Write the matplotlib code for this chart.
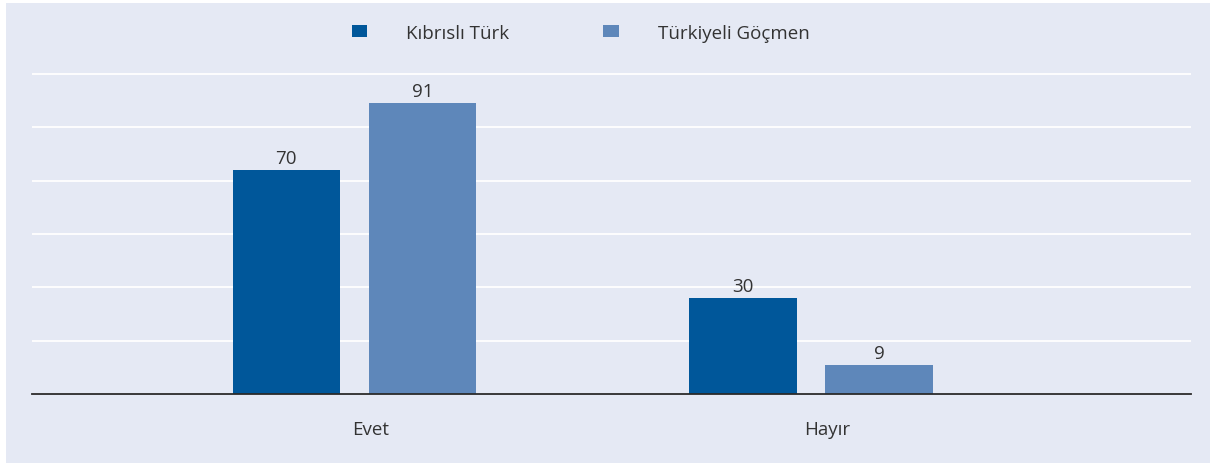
import matplotlib.pyplot as plt
import numpy as np
from matplotlib.patches import Rectangle

# veriler
categories = ["Evet", "Hayır"]
series_names = ["Kıbrıslı Türk", "Türkiyeli Göçmen"]
kibrisli = [70, 30]
gocmen = [91, 9]

c = ['#00579a', '#5e87ba']
bg = '#e5e9f4'
txt = '#333333'

plt.rcParams['font.family'] = ['Open Sans', 'DejaVu Sans']

fig = plt.figure(figsize=(12.1, 4.64), dpi=100, facecolor='white')
W, H = 1210, 464
fig.patches.append(Rectangle((6 / W, 0), 1 - 6 / W, 1 - 4 / H, transform=fig.transFigure,
                             facecolor=bg, edgecolor='none', zorder=-5))

ax = fig.add_axes([32 / W, 1 - 395 / H, (1191 - 32) / W, (395 - 74) / H])
ax.set_zorder(2)
ax.set_facecolor(bg)

x = np.arange(len(categories))
w = 0.235
off = 0.149
b1 = ax.bar(x - off, kibrisli, w, color=c[0], label=series_names[0], zorder=3)
b2 = ax.bar(x + off, gocmen, w, color=c[1], label=series_names[1], zorder=3)

for bars in (b1, b2):
    for r in bars:
        ax.text(r.get_x() + r.get_width() / 2, r.get_height() + 1.0, str(int(r.get_height())),
                ha='center', va='bottom', fontsize=13.5, color=txt)

ax.set_xlim(-0.706, 1.832)
ax.set_ylim(0, 100.3)
ax.set_yticks(np.linspace(0, 100, 7))
ax.yaxis.grid(True, color='white', linewidth=1.3, zorder=1)
ax.tick_params(axis='y', length=0, labelleft=False)
ax.set_xticks(x + 0.035)
ax.set_xticklabels(categories, fontsize=13.5, color=txt)
ax.tick_params(axis='x', length=0, pad=19)
for s in ['top', 'right', 'left']:
    ax.spines[s].set_visible(False)
ax.spines['bottom'].set_color('#2a2a2a')
ax.spines['bottom'].set_linewidth(1.3)
ax.spines['bottom'].set_zorder(4)

leg = fig.legend(loc='center', bbox_to_anchor=(0.480, 1 - 34 / H), ncol=2, frameon=False,
                 fontsize=13.5, handlelength=0.82, handleheight=0.6, handletextpad=2.1,
                 columnspacing=5.0, labelcolor=txt)

plt.savefig('out.png', dpi=100, facecolor='white')
